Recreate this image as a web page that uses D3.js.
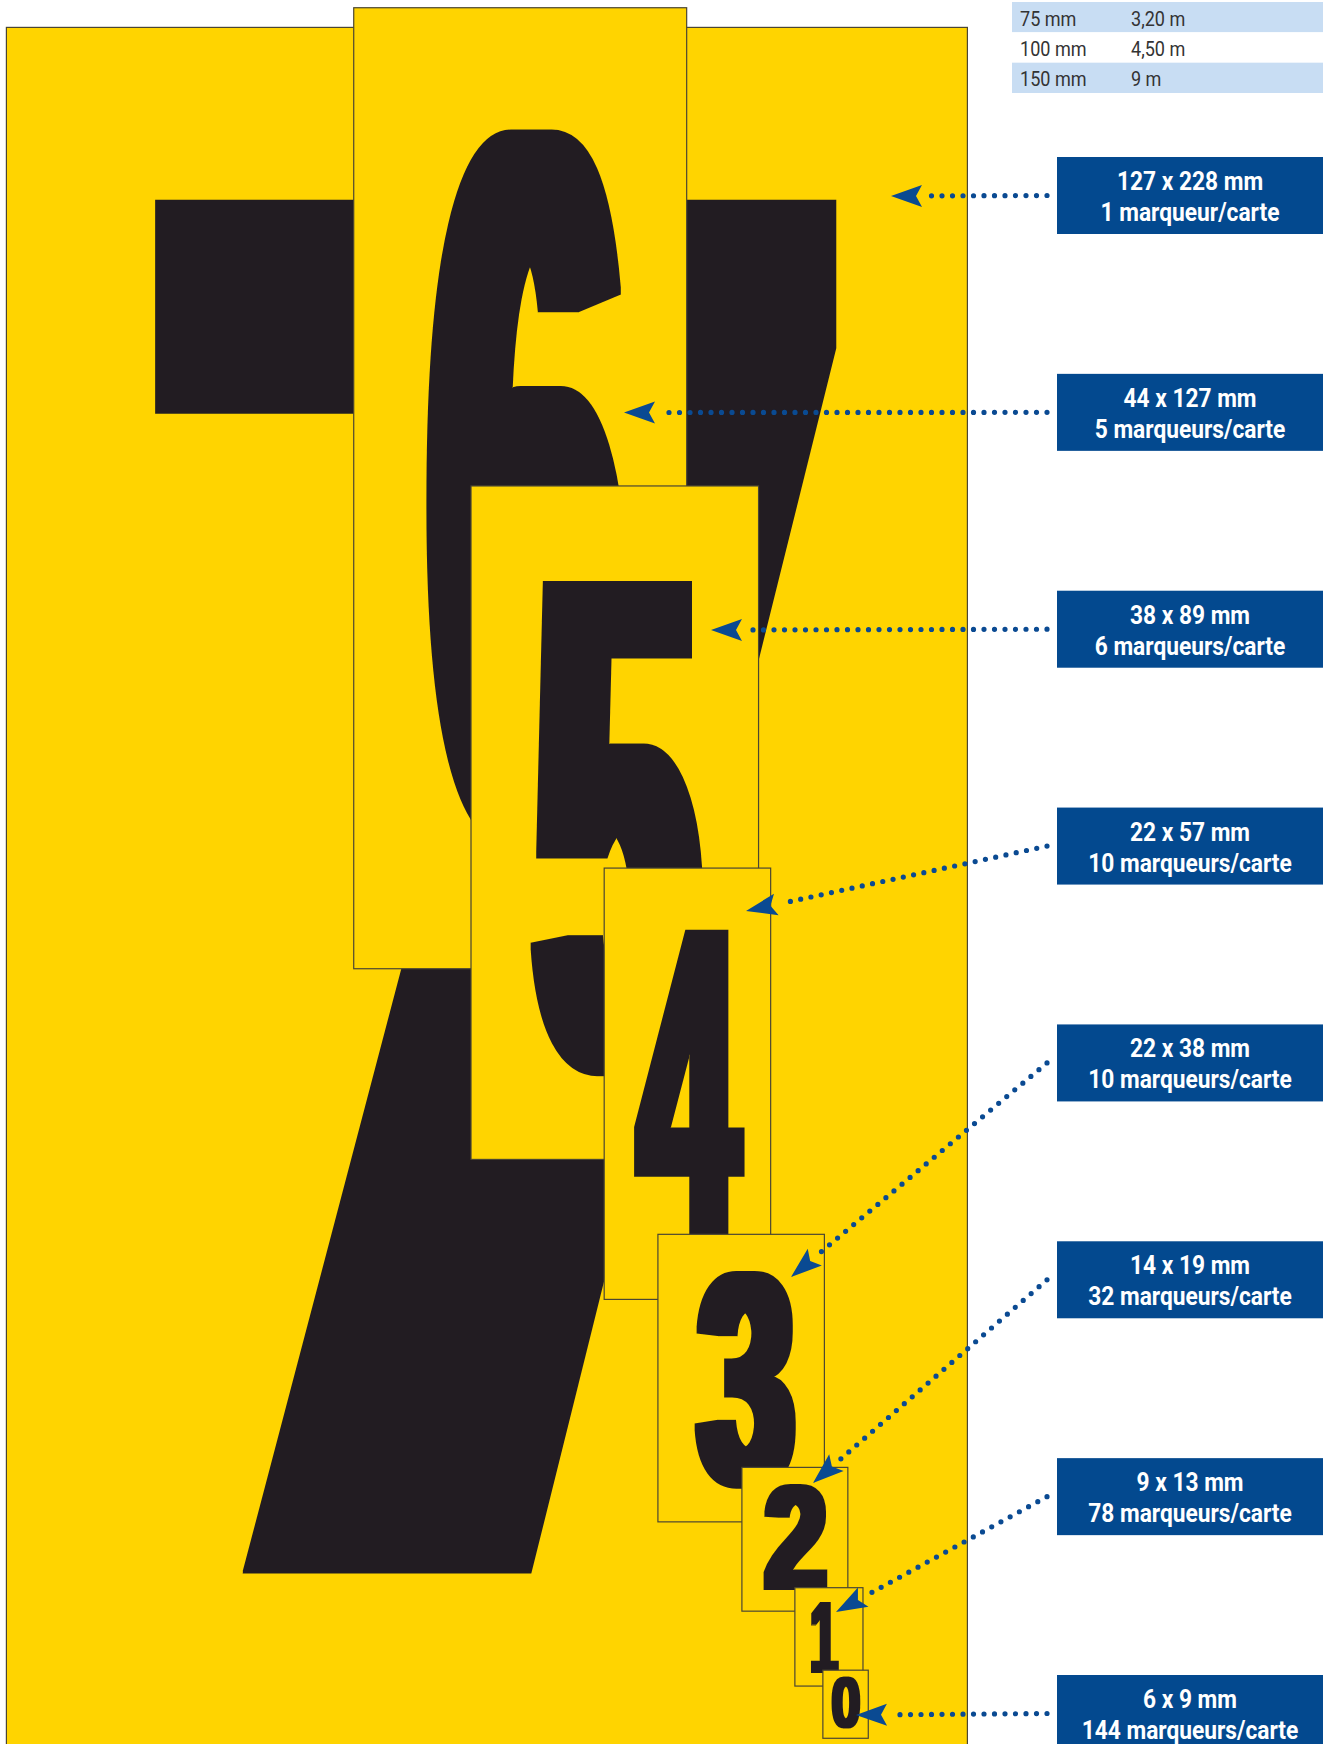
<!DOCTYPE html>
<html lang="fr">
<head>
<meta charset="utf-8">
<title>Marqueurs chiffres</title>
<script src="https://cdn.jsdelivr.net/npm/d3@7"></script>
<style>
    body { margin: 0; background: #fff; }
    svg { display: block; }
</style>
</head>
<body>
<script>
// cards, biggest to smallest
var digits = ['7', '6', '5', '4', '3', '2', '1', '0'];
var widthMm = [127, 44, 38, 22, 22, 14, 9, 6];
var heightMm = [228, 127, 89, 57, 38, 19, 13, 9];
var perCard = [1, 5, 6, 10, 10, 32, 78, 144];

// small table top right
var tableHeights = ['75 mm', '100 mm', '150 mm'];
var tableLengths = ['3,20 m', '4,50 m', '9 m'];

// ---- layout ----
var W = 1329, H = 1744;
var yellow = '#ffd400', ink = '#231f20', blue = '#03498f', edge = '#4b4632';
var origin = [6.4, 27.4];
// top-left of each card, mm from the big card corner
var cardX = [0, 45.9, 61.4, 79.0, 86.1, 97.2, 104.2, 107.9];
var cardY = [0, -2.6, 60.6, 111.1, 159.5, 190.3, 206.2, 217.1];
// ink box of the digit inside its card, px [x0, y0, x1, y1]
var glyphBox = [
    [143.6, 154.6, 833.6, 1546.6],
    [72, 120, 273.5, 839],
    [59, 94, 233, 590],
    [29.5, 60.5, 141.5, 371],
    [36, 36, 138, 254],
    [21, 17, 86, 123],
    [16, 14, 44, 85],
    [8, 6, 38, 58]
];
// font per digit, and how much the stencil shape is fattened in x / y (share of width)
var lib = '"Liberation Sans", Arial, sans-serif';
var glyphFamily = ['Roboto, sans-serif', lib, lib, lib, lib, lib, lib, lib];
var glyphWeight = [700, 700, 700, 700, 700, 700, 700, 700];
var fatX = [0.09, 0.1, 0.1, 0.075, 0.09, 0.08, 0.07, 0.08];
var fatY = [0.002, 0.015, 0.015, 0.02, 0.03, 0.03, 0.03, 0.03];
// where each arrow points
var arrowTip = [[891, 196], [624, 412.5], [711, 630], [746, 911], [791, 1277], [813, 1483], [836, 1612], [856, 1715]];

var mm = d3.scaleLinear().domain([0, 127]).range([0, 961]);
var labelTop = d3.scaleLinear().domain([0, 7]).range([157, 1675]);
var rowY = d3.scaleBand().domain(d3.range(tableHeights.length)).range([2, 93]);

var svg = d3.select('body').append('svg')
    .attr('width', W)
    .attr('height', H);
var defs = svg.append('defs');

var ctx = document.createElement('canvas').getContext('2d');

function drawGlyph(g, i, box) {
    var F = 200, ch = digits[i];
    ctx.font = glyphWeight[i] + ' ' + F + 'px ' + glyphFamily[i];
    var m = ctx.measureText(ch);
    var L = -m.actualBoundingBoxLeft, R = m.actualBoundingBoxRight;
    var T = -m.actualBoundingBoxAscent, B = m.actualBoundingBoxDescent;
    // dilate in screen pixels, more across than up and down
    var w = box[2] - box[0];
    var rx = fatX[i] * w, ry = fatY[i] * w;
    defs.append('filter')
        .attr('id', 'fat' + i)
        .attr('x', '-20%').attr('y', '-20%')
        .attr('width', '140%').attr('height', '140%')
        .append('feMorphology')
        .attr('operator', 'dilate')
        .attr('radius', rx + ' ' + ry);
    var sx = (w - 2 * rx) / (R - L);
    var sy = (box[3] - box[1] - 2 * ry) / (B - T);
    var tx = box[0] + rx - sx * L;
    var ty = box[1] + ry - sy * T;
    g.append('g')
        .attr('filter', 'url(#fat' + i + ')')
        .append('text')
        .attr('transform', 'translate(' + tx + ',' + ty + ') scale(' + sx + ',' + sy + ')')
        .attr('font-family', glyphFamily[i])
        .attr('font-weight', glyphWeight[i])
        .attr('font-size', F)
        .attr('fill', ink)
        .text(ch);
}

// cards + digits, each one covers the previous
var cards = svg.append('g');
digits.forEach(function(d, i) {
    var x = origin[0] + mm(cardX[i]);
    var y = origin[1] + mm(cardY[i]);
    var g = cards.append('g').attr('transform', 'translate(' + x + ',' + y + ')');
    g.append('rect')
        .attr('width', mm(widthMm[i]))
        .attr('height', mm(heightMm[i]))
        .attr('fill', yellow)
        .attr('stroke', edge)
        .attr('stroke-width', 1.2);
    drawGlyph(g, i, glyphBox[i]);
});

// table
var table = svg.append('g');
table.selectAll('rect')
    .data(tableHeights)
    .enter()
    .append('rect')
    .attr('x', 1012)
    .attr('y', function(d, i) { return rowY(i); })
    .attr('width', 311)
    .attr('height', rowY.bandwidth())
    .attr('fill', function(d, i) { return i % 2 === 0 ? '#c8ddf3' : '#fff'; });
var cols = [tableHeights, tableLengths];
[1020, 1131].forEach(function(cx, c) {
    table.selectAll('text.c' + c)
        .data(cols[c])
        .enter()
        .append('text')
        .attr('class', 'c' + c)
        .attr('transform', function(d, i) {
            return 'translate(' + cx + ',' + (rowY(i) + 23.5) + ') scale(0.86,1)';
        })
        .attr('font-family', 'Roboto, sans-serif')
        .attr('font-size', 21)
        .attr('fill', '#333')
        .text(function(d) { return d; });
});

// arrows
var arrows = svg.append('g');
arrowTip.forEach(function(tip, i) {
    var tail = [1047, labelTop(i) + 38.5];
    var a = Math.atan2(tip[1] - tail[1], tip[0] - tail[0]);
    var end = [tip[0] - 36 * Math.cos(a), tip[1] - 36 * Math.sin(a)];
    arrows.append('line')
        .attr('x1', tail[0]).attr('y1', tail[1])
        .attr('x2', end[0]).attr('y2', end[1])
        .attr('stroke', '#0a4a92')
        .attr('stroke-width', 5.2)
        .attr('stroke-linecap', 'round')
        .attr('stroke-dasharray', '0 10.5');
    arrows.append('path')
        .attr('d', 'M0,0L-31,-11L-25,0L-31,11Z')
        .attr('transform', 'translate(' + tip[0] + ',' + tip[1] + ') rotate(' + (a * 180 / Math.PI) + ')')
        .attr('fill', '#0a4a92');
});

// label boxes
var labels = svg.append('g')
    .selectAll('g')
    .data(digits)
    .enter()
    .append('g')
    .attr('transform', function(d, i) { return 'translate(1057,' + labelTop(i) + ')'; });
labels.append('rect')
    .attr('width', 266)
    .attr('height', 77)
    .attr('fill', blue);
labels.append('text')
    .attr('transform', 'translate(133,33) scale(0.91,1)')
    .attr('text-anchor', 'middle')
    .attr('font-family', 'Roboto, sans-serif')
    .attr('font-weight', 700)
    .attr('font-size', 25)
    .attr('fill', '#fff')
    .text(function(d, i) { return widthMm[i] + ' x ' + heightMm[i] + ' mm'; });
labels.append('text')
    .attr('transform', 'translate(133,64) scale(0.91,1)')
    .attr('text-anchor', 'middle')
    .attr('font-family', 'Roboto, sans-serif')
    .attr('font-weight', 700)
    .attr('font-size', 25)
    .attr('fill', '#fff')
    .text(function(d, i) { return perCard[i] + (perCard[i] > 1 ? ' marqueurs' : ' marqueur') + '/carte'; });
</script>
</body>
</html>
